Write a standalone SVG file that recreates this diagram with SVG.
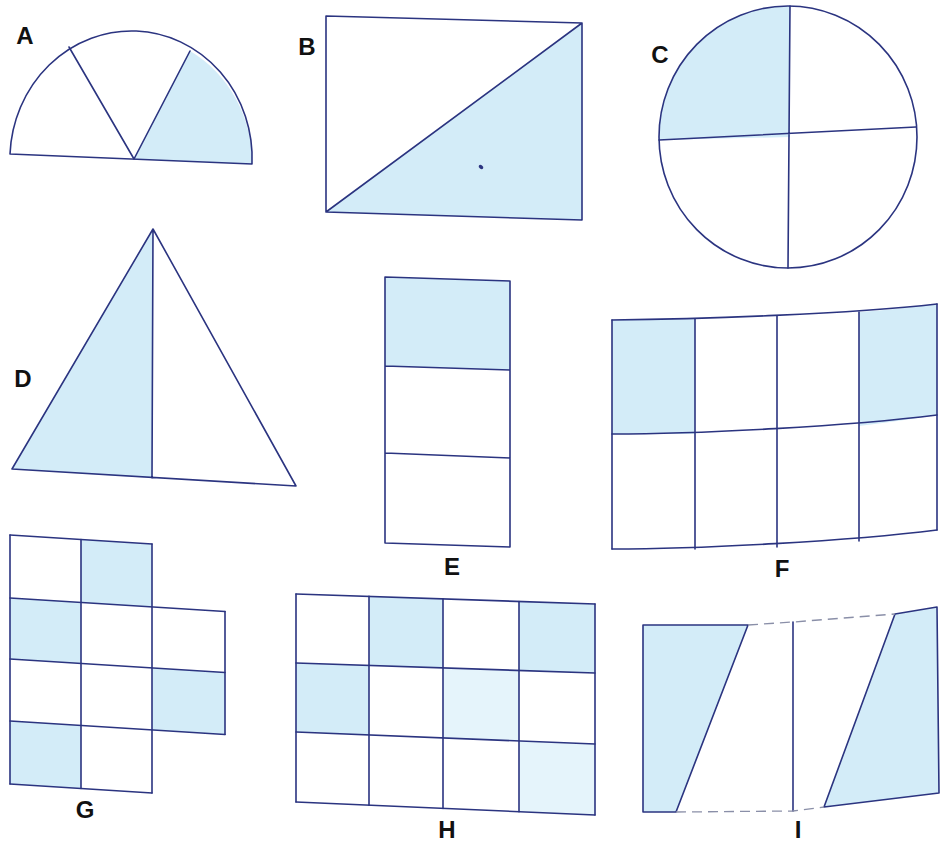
<svg xmlns="http://www.w3.org/2000/svg" width="940" height="844" viewBox="0 0 940 844">
<style>
.ln{fill:none;stroke:#2b3480;stroke-width:1.6;stroke-linejoin:round;stroke-linecap:round}
.fl{fill:none;stroke:#8a8fa8;stroke-width:1.3;stroke-dasharray:10 6}
.sh{fill:#d3ecf8;stroke:none}
.sh2{fill:#e5f4fb;stroke:none}
.lb{font-family:"Liberation Sans",Arial,sans-serif;font-weight:bold;font-size:24px;fill:#111;text-anchor:middle}
</style>
<rect width="940" height="844" fill="#ffffff"/>

<g id="A">
<path class="sh" d="M134,159 L190,51 A121,128 2.4 0 1 252,164 Z"/>
<path class="ln" d="M10,154 A121,128 2.4 0 1 252,164 Z"/>
<path class="ln" d="M69,47 L134,159 L190,51"/>
<text class="lb" x="25" y="44">A</text>
</g>

<g id="B">
<path class="sh" d="M326,212 L582,23 L582,220 Z"/>
<path class="ln" d="M326,16 L582,23 L582,220 L326,212 Z M326,212 L582,23"/>
<ellipse cx="481" cy="167" rx="2.5" ry="1.8" fill="#2b3480" transform="rotate(35 481 167)"/>
<text class="lb" x="307" y="55">B</text>
</g>

<g id="C">
<path class="sh" d="M659,140 A129,131 0 0 1 790,6 L790,137 Z"/>
<ellipse class="ln" cx="788" cy="137" rx="129" ry="131"/>
<path class="ln" d="M659,140 L916,127 M790,6 L788,268"/>
<text class="lb" x="660" y="63">C</text>
</g>

<g id="D">
<path class="sh" d="M153,229 L12,469 L152,478 Z"/>
<path class="ln" d="M153,229 L12,469 L296,486 Z M153,229 L152,478"/>
<text class="lb" x="23" y="387">D</text>
</g>

<g id="E">
<path class="sh" d="M385,277 L510,281 L510,370 L385,366 Z"/>
<path class="ln" d="M385,277 L510,281 L510,547 L385,543 Z M385,366 L510,370 M385,453 L510,458"/>
<text class="lb" x="452" y="575">E</text>
</g>

<g id="F">
<path class="sh" d="M612,320 L695,319 L695,434 L612,434 Z"/>
<path class="sh" d="M859,312 Q900,309 937,304 L937,415 Q900,421 859,426 Z"/>
<path class="ln" d="M612,320 C700,319 850,314 937,304 M612,434 C700,434 850,426 937,415 M612,549 C700,549 850,541 937,530"/>
<path class="ln" d="M612,320 L612,549 M695,319 L695,549 M777,316 L777,547 M859,312 L859,541 M937,304 L937,530"/>
<text class="lb" x="782" y="577">F</text>
</g>

<g id="G">
<path class="sh" d="M81,539.5 L152,544 L152,607 L81,602.5 Z"/>
<path class="sh" d="M10,598 L81,602.5 L81,663.5 L10,659 Z"/>
<path class="sh" d="M152,668 L225,672.5 L225,734.5 L152,730 Z"/>
<path class="sh" d="M10,721 L81,725.5 L81,788.5 L10,784 Z"/>
<path class="ln" d="M10,535 L152,544 M10,598 L225,611.5 M10,659 L225,672.5 M10,721 L225,734.5 M10,784 L152,793"/>
<path class="ln" d="M10,535 L10,784 M81,539.5 L81,788.5 M152,544 L152,793 M225,611.5 L225,734.5"/>
<text class="lb" x="85" y="818">G</text>
</g>

<g id="H">
<path class="sh" d="M369,596.4 L443,598.9 L443,667.9 L369,665.4 Z"/>
<path class="sh" d="M519,601.5 L595,604 L595,673 L519,670.5 Z"/>
<path class="sh" d="M296,663 L369,665.4 L369,734.9 L296,732 Z"/>
<path class="sh2" d="M443,667.9 L519,670.5 L519,740.9 L443,737.9 Z"/>
<path class="sh2" d="M519,740.9 L595,744 L595,815 L519,811.7 Z"/>
<path class="ln" d="M296,594 L595,604 M296,663 L595,673 M296,732 L595,744 M296,802 L595,815"/>
<path class="ln" d="M296,594 L296,802 M369,596.4 L369,805.2 M443,598.9 L443,808.4 M519,601.5 L519,811.7 M595,604 L595,815"/>
<text class="lb" x="447" y="838">H</text>
</g>

<g id="I">
<path class="sh" d="M643,625 L748,625 L676,812 L643,812 Z"/>
<path class="sh" d="M895,614 L937,607 L939,793 L824,807 Z"/>
<path class="ln" d="M676,812 L643,812 L643,625 L748,625 L676,812"/>
<path class="ln" d="M824,807 L895,614 L937,607 L939,793 L824,807"/>
<path class="ln" d="M793,622 L793,811"/>
<path class="fl" d="M748,625 L793,622 L895,614 M676,812 L793,811 L824,807"/>
<text class="lb" x="798" y="838">I</text>
</g>
</svg>
